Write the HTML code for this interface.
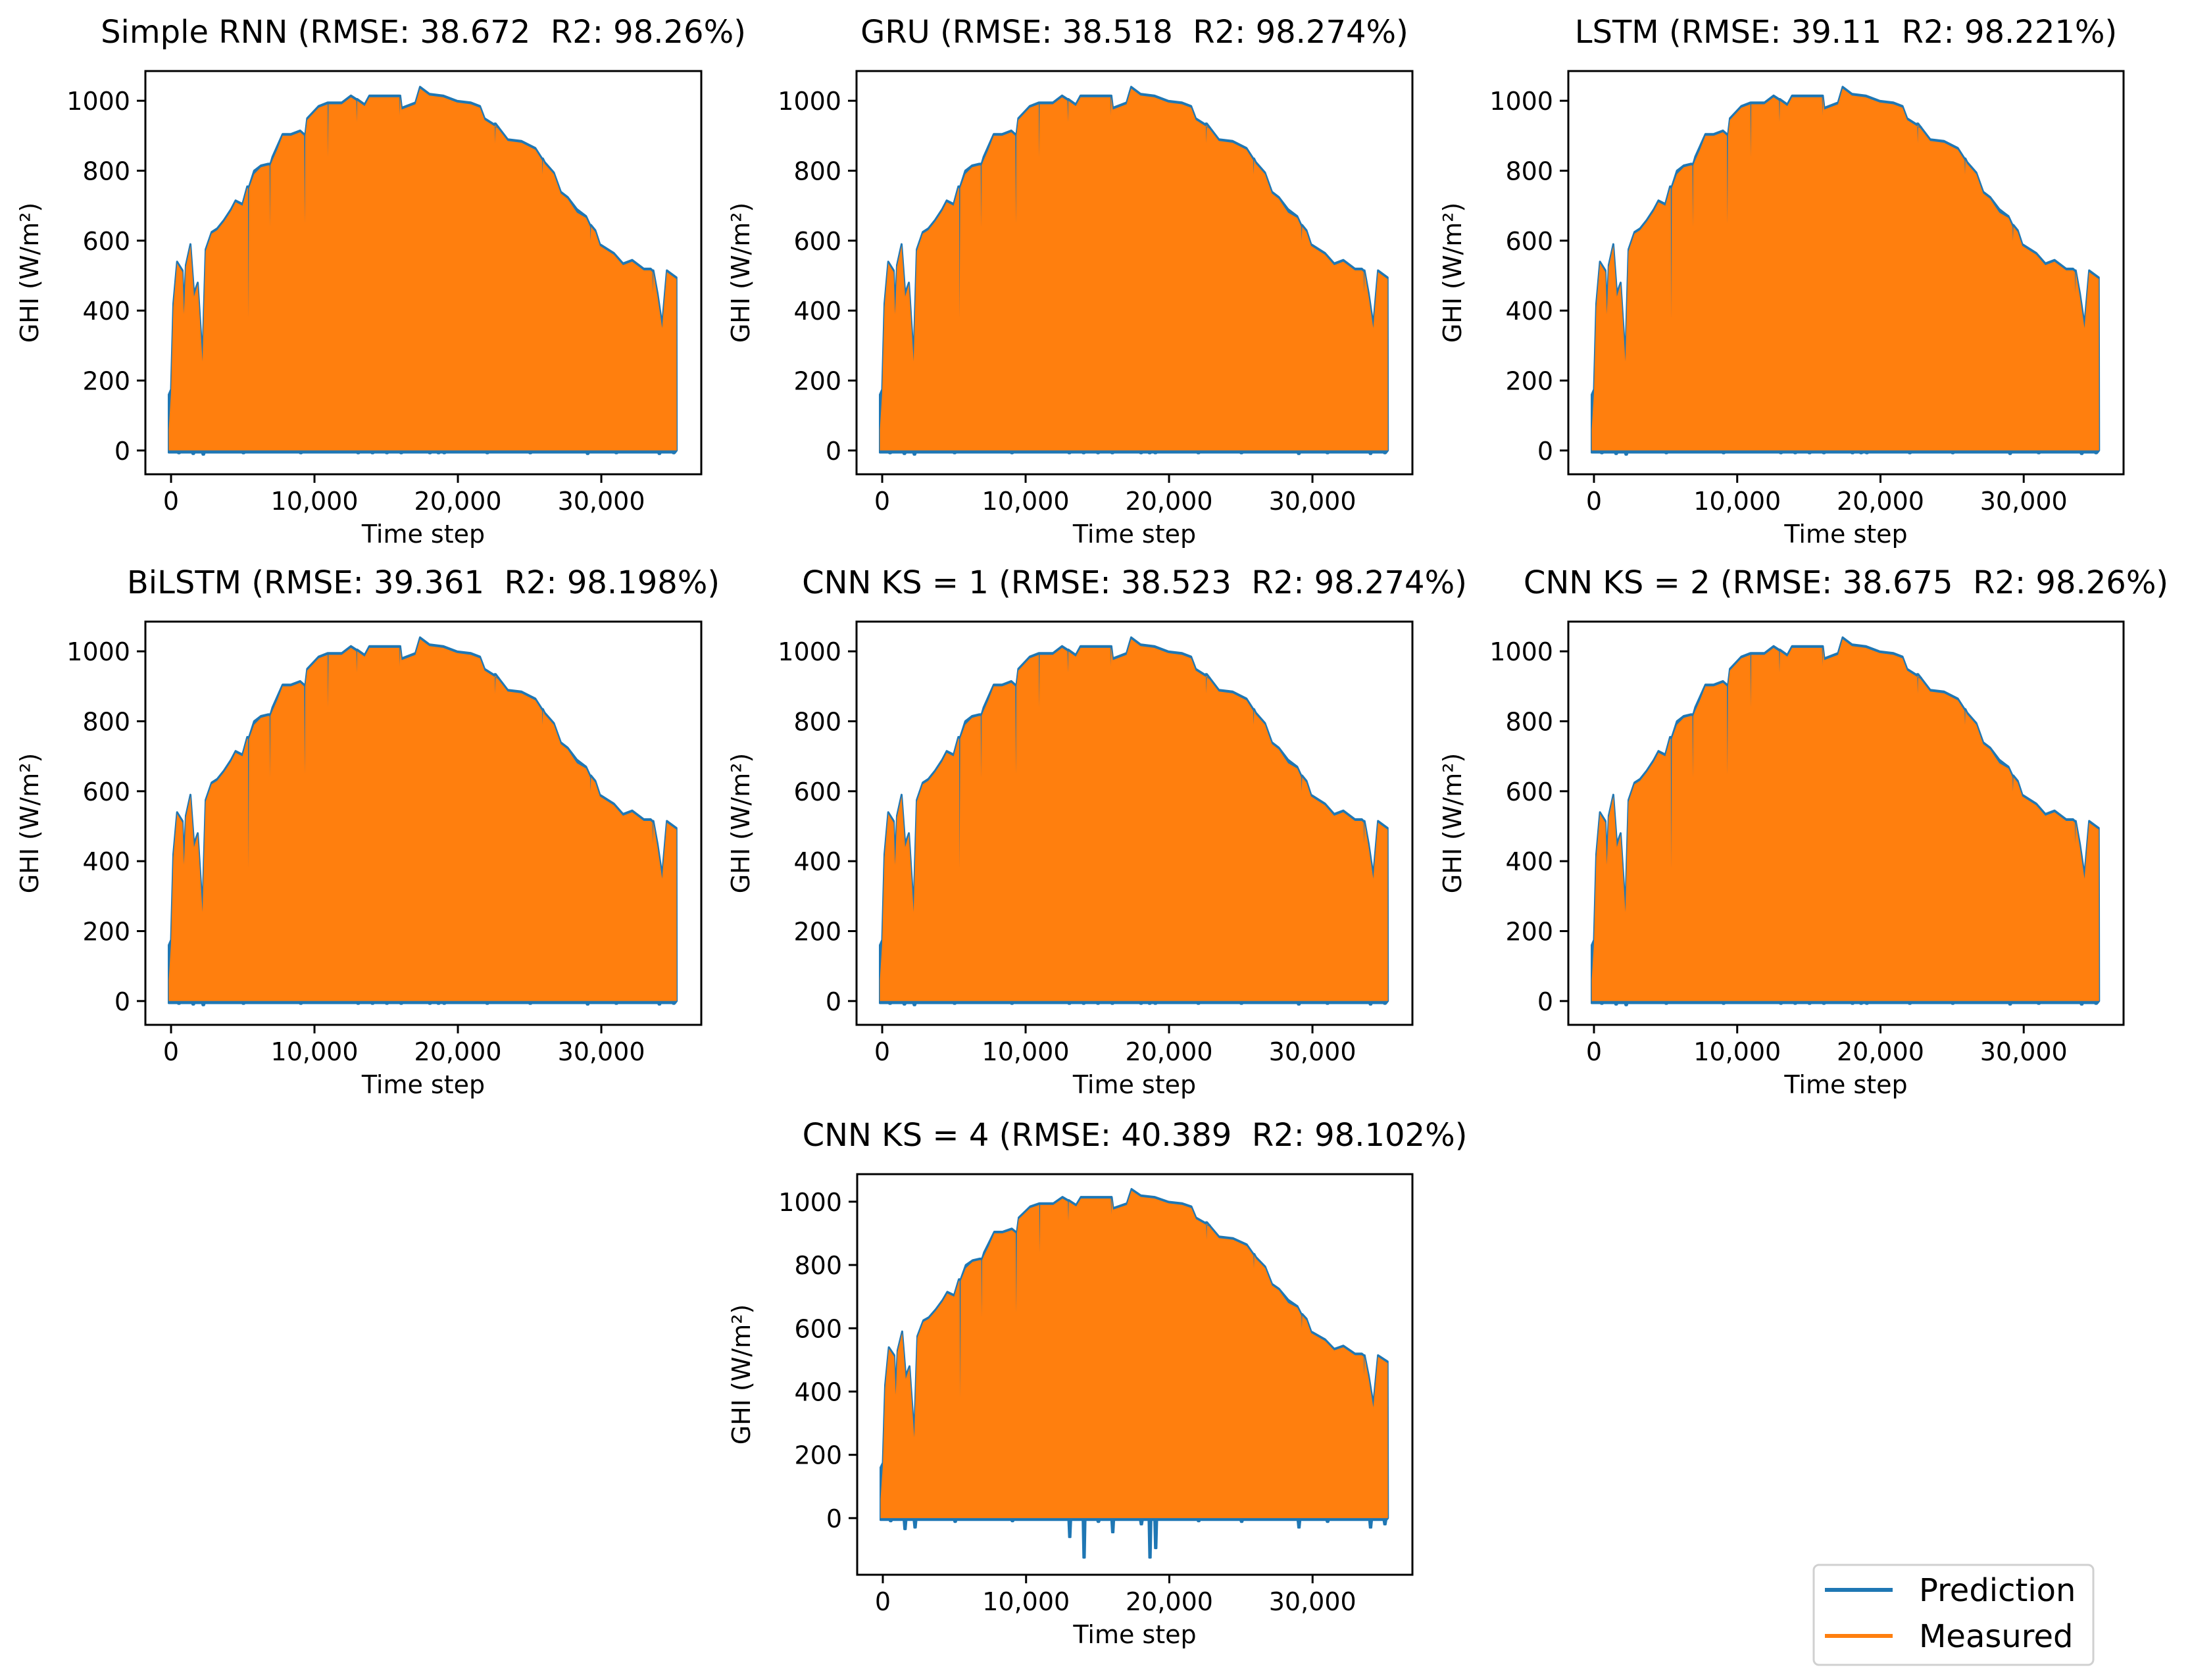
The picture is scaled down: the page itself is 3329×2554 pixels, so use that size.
<!DOCTYPE html>
<html><head><meta charset="utf-8"><style>
html,body{margin:0;padding:0;background:#fff}
svg{display:block}
text{font-family:"DejaVu Sans","Liberation Sans",sans-serif;fill:#000}
</style></head><body>
<svg id="fig" width="3329" height="2554" viewBox="0 0 3329 2554" xmlns="http://www.w3.org/2000/svg"></svg>
<script>
// ---- data ----
const timeSteps = [-160,0,160,420,800,900,1030,1350,1600,1860,2190,2410,2830,3220,3700,4180,4500,4980,5310,5360,5400,5440,5790,6270,6750,6870,6900,6930,7070,7400,7780,8360,9000,9280,9320,9360,9490,10290,10920,10950,10980,11250,11900,12540,12920,12950,12980,13500,13830,15430,15920,15950,15980,16080,17040,17360,18010,18970,19940,20900,21540,21860,22830,22570,22600,22630,23470,24440,25400,25870,25900,25930,26050,26690,27170,27650,28300,28940,29220,29250,29280,29580,29900,30870,31510,32150,32960,33440,33570,33600,33630,33920,34240,34570,35240,35260];
const measured  = [60,165,410,535,510,390,525,585,440,475,255,570,620,630,655,685,710,700,750,750,380,750,790,810,815,815,640,815,830,860,900,900,910,900,650,900,945,980,990,840,990,990,990,1010,1000,940,1000,985,1010,1010,1010,960,1010,975,990,1035,1015,1010,995,990,980,945,920,930,880,930,885,880,860,830,790,830,820,790,735,720,680,665,640,600,640,625,585,560,530,540,515,515,510,450,510,440,350,510,490,0];
const predicted = [160,175,420,540,515,395,530,590,450,480,265,575,625,635,660,690,715,705,755,755,390,755,800,815,820,820,650,820,840,870,905,905,915,905,660,905,950,985,995,850,995,995,995,1015,1005,950,1005,990,1015,1015,1015,965,1015,980,995,1040,1020,1015,1000,995,985,950,925,935,890,935,890,885,865,835,800,835,825,795,740,725,690,670,645,610,645,630,590,565,535,545,520,520,515,460,515,450,360,515,495,0];
const predLowT = [500,1500,2200,5000,9000,13000,14000,15000,16000,18000,18600,19000,22000,25000,29000,31000,34000,35000];
const predLowKS4 = [-10,-35,-30,-12,-10,-60,-125,-12,-45,-20,-125,-95,-10,-12,-30,-12,-30,-20];
const predLowOther = [-8,-10,-12,-8,-8,-8,-8,-8,-8,-8,-8,-8,-8,-8,-10,-8,-10,-8];
const yTicks = [0,200,400,600,800,1000];
const xTicks = [0,10000,20000,30000];
const xTickLabels = ["0","10,000","20,000","30,000"];
const titles = ["Simple RNN (RMSE: 38.672  R2: 98.26%)","GRU (RMSE: 38.518  R2: 98.274%)","LSTM (RMSE: 39.11  R2: 98.221%)","BiLSTM (RMSE: 39.361  R2: 98.198%)","CNN KS = 1 (RMSE: 38.523  R2: 98.274%)","CNN KS = 2 (RMSE: 38.675  R2: 98.26%)","CNN KS = 4 (RMSE: 40.389  R2: 98.102%)"];

const NS="http://www.w3.org/2000/svg";
const svg=document.getElementById('fig');
function mk(tag,attrs,parent){const e=document.createElementNS(NS,tag);for(const k in attrs)e.setAttribute(k,attrs[k]);(parent||svg).appendChild(e);return e;}

const panels=[
 {x:221,y:108,w:845,h:613,ymin:-68,ymax:1085,ks4:false},
 {x:1302,y:108,w:845,h:613,ymin:-68,ymax:1085,ks4:false},
 {x:2384,y:108,w:844,h:613,ymin:-68,ymax:1085,ks4:false},
 {x:221,y:945,w:845,h:613,ymin:-68,ymax:1085,ks4:false},
 {x:1302,y:945,w:845,h:613,ymin:-68,ymax:1085,ks4:false},
 {x:2384,y:945,w:844,h:613,ymin:-68,ymax:1085,ks4:false},
 {x:1303,y:1785,w:844,h:609,ymin:-179,ymax:1087,ks4:true}
];
const XMIN=-1790, XMAX=36970;

panels.forEach((p,i)=>{
  const g=mk('g',{});
  
  
  const sx=t=>p.x+(t-XMIN)/(XMAX-XMIN)*p.w;
  const sy=v=>p.y+p.h-(v-p.ymin)/(p.ymax-p.ymin)*p.h;
  const tt=mk('text',{x:p.x+p.w/2,y:p.y-43,'font-size':48,'text-anchor':'middle',style:'white-space:pre'},g);
  
  
  tt.textContent=titles[i];
  const low = p.ks4?predLowKS4:predLowOther;
  let pts=[];
  timeSteps.forEach((t,k)=>pts.push(sx(t).toFixed(1)+','+sy(predicted[k]).toFixed(1)));
  for(let k=predLowT.length-1;k>=0;k--){
    const t=predLowT[k];
    pts.push(sx(t+150).toFixed(1)+','+sy(-6).toFixed(1));
    pts.push(sx(t+100).toFixed(1)+','+sy(low[k]).toFixed(1));
    pts.push(sx(t).toFixed(1)+','+sy(low[k]).toFixed(1));
    pts.push(sx(t-50).toFixed(1)+','+sy(-6).toFixed(1));
  }
  pts.push(sx(timeSteps[0]).toFixed(1)+','+sy(-6).toFixed(1));
  const pb=mk('polygon',{points:pts.join(' '),fill:'#1f77b4',stroke:'#1f77b4','stroke-width':3,'stroke-linejoin':'round'},g);
  
  
  let mp=[sx(timeSteps[0]).toFixed(1)+','+sy(0).toFixed(1)];
  timeSteps.forEach((t,k)=>mp.push(sx(t).toFixed(1)+','+sy(measured[k]).toFixed(1)));
  mp.push(sx(timeSteps[timeSteps.length-1]).toFixed(1)+','+sy(0).toFixed(1));
  const po=mk('polygon',{points:mp.join(' '),fill:'#ff7f0e'},g);
  
  
  const fr=mk('rect',{x:p.x,y:p.y,width:p.w,height:p.h,fill:'none',stroke:'#000','stroke-width':3},g);
  
  
  yTicks.forEach(v=>{
    const y=sy(v);
    mk('line',{x1:p.x-13,x2:p.x,y1:y,y2:y,stroke:'#000','stroke-width':3},g);
    const l=mk('text',{x:p.x-23,y:y+14,'font-size':38,'text-anchor':'end'},g);
    
    
    l.textContent=v;
  });
  xTicks.forEach((t,k)=>{
    const x=sx(t);
    mk('line',{x1:x,x2:x,y1:p.y+p.h,y2:p.y+p.h+13,stroke:'#000','stroke-width':3},g);
    const l=mk('text',{x:x,y:p.y+p.h+54,'font-size':38,'text-anchor':'middle'},g);
    
    
    l.textContent=xTickLabels[k];
  });
  const xl=mk('text',{x:p.x+p.w/2,y:p.y+p.h+104,'font-size':38,'text-anchor':'middle'},g);
  
  
  xl.textContent='Time step';
  const cy=p.y+p.h/2, cx=p.x-163;
  const yl=mk('text',{x:cx,y:cy,'font-size':38,'text-anchor':'middle',transform:'rotate(-90 '+cx+' '+cy+')'},g);
  
  
  yl.textContent='GHI (W/m²)';
});

const lg=mk('g',{});


mk('rect',{x:2757,y:2379,width:425,height:152,rx:8,fill:'#fff',stroke:'#d0d0d0','stroke-width':3},lg);
const le1=mk('line',{x1:2774,x2:2877,y1:2417,y2:2417,stroke:'#1f77b4','stroke-width':6},lg);


const lt1=mk('text',{x:2917,y:2434,'font-size':48},lg);


lt1.textContent='Prediction';
const le2=mk('line',{x1:2774,x2:2877,y1:2487,y2:2487,stroke:'#ff7f0e','stroke-width':6},lg);


const lt2=mk('text',{x:2917,y:2504,'font-size':48},lg);


lt2.textContent='Measured';
</script>
</body></html>
